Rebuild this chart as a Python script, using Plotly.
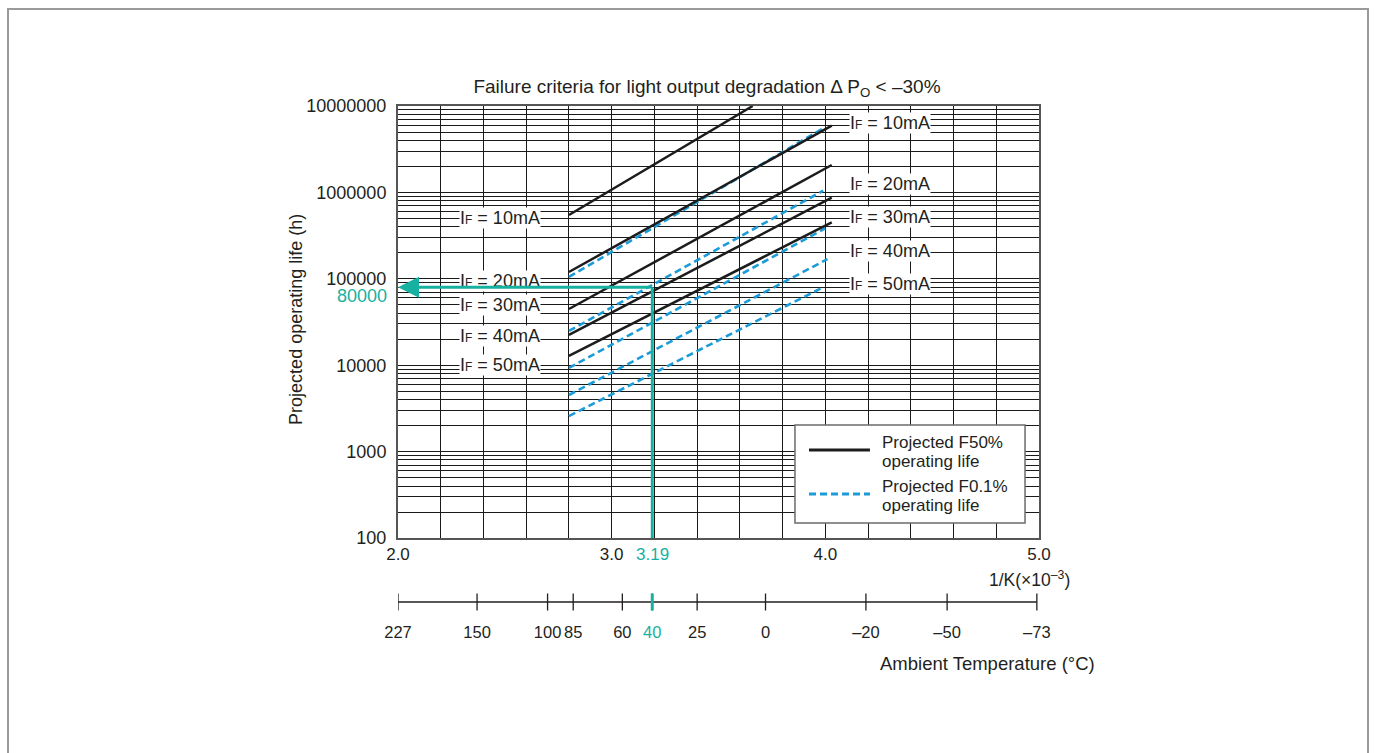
import math

import plotly.graph_objects as go

# 1/K (x10^-3) axis
x_grid = [2.0, 2.2, 2.4, 2.6, 2.8, 3.0, 3.2, 3.4, 3.6, 3.8, 4.0, 4.2, 4.4, 4.6, 4.8, 5.0]
x_labels = ["2.0", "", "", "", "", "3.0", "", "", "", "", "4.0", "", "", "", "", "5.0"]

# projected operating life (h), log axis
life_decades = [100, 1000, 10000, 100000, 1000000, 10000000]
life_labels = ["100", "1000", "10000", "100000", "1000000", "10000000"]

# ambient temperature scale, tick positions read on the 1/K axis
temp_labels = ["227", "150", "100", "85", "60", "40", "25", "0", "–20", "–50", "–73"]
temp_pos = [2.00, 2.37, 2.70, 2.82, 3.05, 3.19, 3.40, 3.72, 4.19, 4.57, 4.99]

currents = ["10", "20", "30", "40", "50"]

# projected F50% operating life (solid)
f50_x0 = [2.8, 2.8, 2.8, 2.8, 2.8]
f50_x1 = [3.66, 4.03, 4.03, 4.03, 4.03]
f50_y0 = [547000, 120000, 44700, 22400, 12800]
f50_y1 = [10000000, 5920000, 2075000, 868000, 451000]

# projected F0.1% operating life (dashed)
f01_x0 = [2.8, 2.8, 2.8, 2.8, 2.8]
f01_x1 = [3.99, 3.99, 4.0, 4.01, 3.98]
f01_y0 = [105000, 24900, 9290, 4520, 2580]
f01_y1 = [5520000, 1047000, 384000, 169000, 77600]

# where the IF labels sit
f50_label_x = 2.477
f50_label_y = [506000, 94400, 49800, 21800, 10050]
f01_label_x = 4.302
f01_label_y = [6350000, 1250000, 519000, 210000, 87100]

# worked example: 40 degC -> 3.19 -> 80000 h
mark_x = 3.19
mark_life = 80000

TEAL = "#17b1a1"
BLUE = "#1b9bd7"
INK = "#231f20"
FONT = "Liberation Sans, Arial, sans-serif"

fig = go.Figure()

for i, cur in enumerate(currents):
    fig.add_trace(go.Scatter(
        x=[f01_x0[i], f01_x1[i]], y=[f01_y0[i], f01_y1[i]],
        mode="lines", line=dict(color=BLUE, width=2.6, dash="7px,4px"),
        showlegend=False, hoverinfo="skip",
    ))
for i, cur in enumerate(currents):
    fig.add_trace(go.Scatter(
        x=[f50_x0[i], f50_x1[i]], y=[f50_y0[i], f50_y1[i]],
        mode="lines", line=dict(color="#1c1c1c", width=2.5),
        showlegend=False, hoverinfo="skip",
    ))

# vertical leg of the worked example (the horizontal leg is the arrow annotation)
fig.add_trace(go.Scatter(
    x=[mark_x, mark_x], y=[life_decades[0], mark_life],
    mode="lines", line=dict(color=TEAL, width=3),
    showlegend=False, hoverinfo="skip",
))

# ambient temperature scale drawn on its own strip below the chart
tick_lo, tick_mid, tick_hi = 9.5, 18, 26.5
tx, ty = [], []
for p in temp_pos:
    tx += [p, p, None]
    ty += [tick_lo, tick_hi, None]
fig.add_trace(go.Scatter(x=[temp_pos[0], temp_pos[-1]], y=[tick_mid, tick_mid], xaxis="x2", yaxis="y2",
                         mode="lines", line=dict(color=INK, width=1.3), showlegend=False, hoverinfo="skip"))
fig.add_trace(go.Scatter(x=tx, y=ty, xaxis="x2", yaxis="y2",
                         mode="lines", line=dict(color=INK, width=1.3), showlegend=False, hoverinfo="skip"))
fig.add_trace(go.Scatter(x=[mark_x, mark_x], y=[tick_lo, tick_hi], xaxis="x2", yaxis="y2",
                         mode="lines", line=dict(color=TEAL, width=3), showlegend=False, hoverinfo="skip"))

life_grid = [d * k for d in life_decades[:-1] for k in range(1, 10)] + [life_decades[-1]]
life_text = [life_labels[life_decades.index(v)] if v in life_decades else "" for v in life_grid]
temp_text = [f'<span style="color:{TEAL}">{t}</span>' if p == mark_x else t for t, p in zip(temp_labels, temp_pos)]


def note(x, y, text, size=17, color=INK, xref="paper", yref="paper", xanchor="center", **kw):
    return dict(x=x, y=y, xref=xref, yref=yref, text=text, showarrow=False, xanchor=xanchor,
                yanchor="middle", font=dict(size=size, color=color), **kw)


ann = []
for i, cur in enumerate(currents):
    label = f'I<span style="font-size:12px">F</span> = {cur}mA'
    for lx, ly in ((f50_label_x, f50_label_y[i]), (f01_label_x, f01_label_y[i])):
        ann.append(note(lx, math.log10(ly), label, size=18, xref="x", yref="y", bgcolor="white", borderpad=0))

ann += [
    dict(x=x_grid[0], y=math.log10(mark_life), ax=mark_x, ay=math.log10(mark_life),
         xref="x", yref="y", axref="x", ayref="y", text="", showarrow=True,
         arrowhead=2, arrowsize=1.4, arrowwidth=3, arrowcolor=TEAL),
    note(-0.014, math.log10(mark_life), str(mark_life), size=18, color=TEAL, yref="y",
         xanchor="right", yshift=-9),
    note(mark_x, 0.1284, f"{mark_x}", size=17, color=TEAL, xref="x"),
    note(1.0515, 0.0798, "1/K(×10<sup>–3</sup>)", size=17.5, xanchor="right"),
    note(0.9204, -0.0856, "Ambient Temperature (°C)", size=18.5),
    note(-0.159, 0.584, "Projected operating life (h)", size=18, textangle=-90),
    # legend
    note(0.752, 0.3463, "Projected F50%", xanchor="left"),
    note(0.752, 0.3093, "operating life", xanchor="left"),
    note(0.752, 0.2588, "Projected F0.1%", xanchor="left"),
    note(0.752, 0.2218, "operating life", xanchor="left"),
]

shapes = [
    dict(type="rect", xref="paper", yref="paper", x0=-0.6084, x1=1.5133, y0=-0.3, y1=1.1887,
         line=dict(color="#9a9a9a", width=2), layer="below"),
    dict(type="rect", xref="paper", yref="paper", x0=0.6193, x1=0.9782, y0=0.1887, y1=0.3794,
         fillcolor="white", line=dict(color="#6b6b6b", width=1.5)),
    dict(type="line", xref="paper", yref="paper", x0=0.6412, x1=0.7363, y0=0.3307, y1=0.3307,
         line=dict(color="#1c1c1c", width=3)),
    dict(type="line", xref="paper", yref="paper", x0=0.6412, x1=0.7363, y0=0.2451, y1=0.2451,
         line=dict(color=BLUE, width=3, dash="7px,4px")),
]

axis_line = dict(showline=True, mirror=True, linecolor="#555555", linewidth=2,
                 gridcolor="#1a1a1a", gridwidth=1, zeroline=False, ticks="")

fig.update_layout(
    width=1375, height=753,
    margin=dict(l=398, r=336, t=106, b=133),
    paper_bgcolor="white", plot_bgcolor="white",
    font=dict(family=FONT, size=17, color=INK),
    title=dict(text="Failure criteria for light output degradation Δ P<sub>O</sub> &lt; –30%",
               x=0.482, xref="paper", xanchor="center", y=1 - 86 / 753, yref="container",
               yanchor="middle", font=dict(size=19, color=INK)),
    xaxis=dict(range=[x_grid[0], x_grid[-1]], tickmode="array", tickvals=x_grid, ticktext=x_labels,
               anchor="y", ticklabelstandoff=0, tickangle=0, tickfont=dict(size=17), **axis_line),
    yaxis=dict(type="log", range=[2, 7], tickmode="array", tickvals=life_grid, ticktext=life_text,
               domain=[0.1595, 1], anchor="x", ticklabelstandoff=6, tickfont=dict(size=18), **axis_line),
    xaxis2=dict(range=[x_grid[0], x_grid[-1]], anchor="y2", tickmode="array", tickvals=temp_pos,
                ticktext=temp_text, showgrid=False, showline=False, zeroline=False, ticks="",
                ticklabelstandoff=0, tickangle=0, tickfont=dict(size=16.5)),
    yaxis2=dict(domain=[0, 35 / 514], range=[0, 35], visible=False),
    annotations=ann,
    shapes=shapes,
)

fig.write_html("out.html", config={"displayModeBar": False},
               post_script="document.body.style.margin='0';")
